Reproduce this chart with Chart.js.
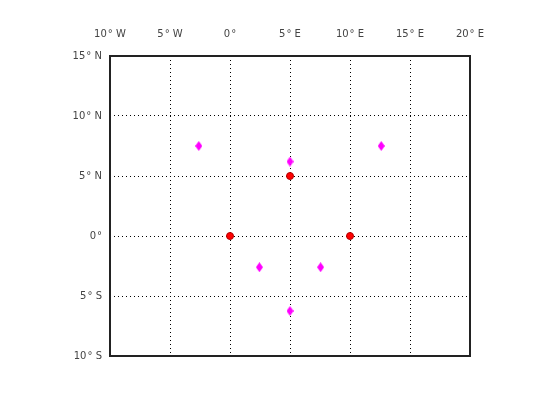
<!DOCTYPE html>
<html lang="en">
<head>
    <meta charset="UTF-8">
    <title>Map points</title>
    <script src="https://cdn.jsdelivr.net/npm/chart.js"></script>
    <style>
        body { margin: 0; background: #fff; }
    </style>
</head>
<body>
    <canvas id="map" width="560" height="420"></canvas>
    <script>
        // data (degrees)
        const redLon = [0, 5, 10];
        const redLat = [0, 5, 0];
        const magLon = [-2.6, 12.6, 5, 2.45, 7.55, 5];
        const magLat = [7.5, 7.5, 6.2, -2.6, -2.6, -6.25];
        const lonTicks = ['10\u200A\u00B0 W', '5\u200A\u00B0 W', '0\u200A\u00B0', '5\u200A\u00B0 E', '10\u200A\u00B0 E', '15\u200A\u00B0 E', '20\u200A\u00B0 E'];
        const latTicks = ['10\u200A\u00B0 S', '5\u200A\u00B0 S', '0\u200A\u00B0', '5\u200A\u00B0 N', '10\u200A\u00B0 N', '15\u200A\u00B0 N'];

        function toPoints(xs, ys) {
            return xs.map((x, i) => ({ x: x, y: ys[i] }));
        }

        // tall diamond marker for the magenta points
        function diamond(w, h, color) {
            const c = document.createElement('canvas');
            c.width = w; c.height = h;
            const g = c.getContext('2d');
            g.fillStyle = color;
            g.beginPath();
            g.moveTo(w / 2, 0);
            g.lineTo(w, h / 2);
            g.lineTo(w / 2, h);
            g.lineTo(0, h / 2);
            g.closePath();
            g.fill();
            return c;
        }

        // box around the plot area
        const frame = {
            id: 'frame',
            afterDraw(chart) {
                const a = chart.chartArea, ctx = chart.ctx;
                ctx.save();
                ctx.strokeStyle = '#222';
                ctx.lineWidth = 2;
                ctx.strokeRect(a.left, a.top, a.right - a.left, a.bottom - a.top);
                ctx.restore();
            }
        };

        const gridOpts = { color: '#000', lineWidth: 1, drawTicks: false };
        const tickFont = { family: 'DejaVu Sans', size: 10 };

        new Chart(document.getElementById('map'), {
            type: 'scatter',
            data: {
                datasets: [
                    {
                        data: toPoints(redLon, redLat),
                        pointStyle: 'circle',
                        pointRadius: 3.5,
                        backgroundColor: '#ff0000',
                        borderColor: '#b00000',
                        borderWidth: 1
                    },
                    {
                        data: toPoints(magLon, magLat),
                        pointStyle: diamond(7, 10, '#ff00ff'),
                        backgroundColor: '#ff00ff'
                    }
                ]
            },
            options: {
                responsive: false,
                animation: false,
                layout: { padding: { left: 0, top: 0, right: 90, bottom: 64 } },
                plugins: { legend: { display: false }, tooltip: { enabled: false } },
                scales: {
                    x: {
                        type: 'linear',
                        position: 'top',
                        min: -10, max: 20,
                        afterFit: s => { s.height = 56; },
                        grid: gridOpts,
                        border: { display: false, dash: [1, 3] },
                        ticks: {
                            stepSize: 5, padding: 16, color: '#444', font: tickFont,
                            maxRotation: 0,
                            callback: (v) => lonTicks[(v + 10) / 5]
                        }
                    },
                    y: {
                        type: 'linear',
                        min: -10, max: 15,
                        afterFit: s => { s.width = 110; },
                        grid: gridOpts,
                        border: { display: false, dash: [1, 3] },
                        ticks: {
                            stepSize: 5, padding: 8, color: '#444', font: tickFont,
                            callback: (v) => latTicks[(v + 10) / 5]
                        }
                    }
                }
            },
            plugins: [frame]
        });
    </script>
</body>
</html>
